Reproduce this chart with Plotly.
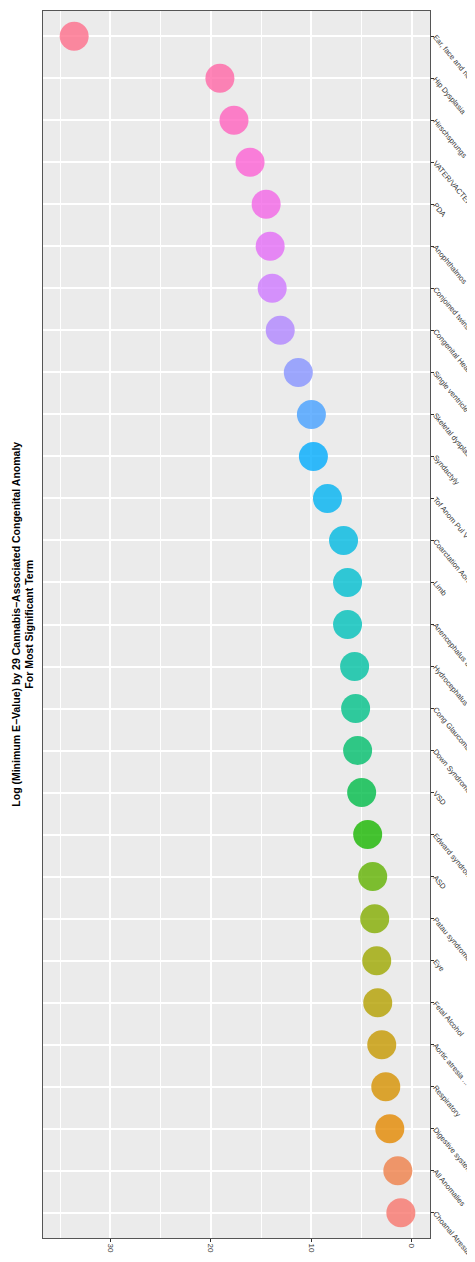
import plotly.graph_objects as go
import math

categories = ["Choanal Atresia", "All Anomalies", "Digestive system", "Respiratory", "Aortic atresia ...",
              "Fetal Alcohol", "Eye", "Patau syndrome", "ASD", "Edward syndrome", "VSD", "Down Syndrome",
              "Cong Glaucoma", "Hydrocephalus", "Anencephalus & ...", "Limb", "Coarctation Aorta",
              "Tof Anom Pul V Ret", "Syndactyly", "Skeletal dysplasias", "Single ventricle",
              "Congenital Heart", "Conjoined twins", "Anophthalmos", "PDA", "VATER/VACTERL",
              "Hirschsprungs", "Hip Dysplasia", "Ear, face and neck"]
values = [1.1, 1.4, 2.2, 2.6, 3.0, 3.4, 3.5, 3.7, 3.9, 4.4, 5.0, 5.4, 5.6, 5.7, 6.4, 6.4, 6.8,
          8.4, 9.8, 10.0, 11.3, 13.1, 13.9, 14.1, 14.5, 16.1, 17.7, 19.1, 33.6]

def hcl(h, c=100, l=65):
    hr = math.radians(h)
    U, V = c*math.cos(hr), c*math.sin(hr)
    Xn, Yn, Zn = 95.047, 100.0, 108.883
    Y = Yn*((l+16)/116)**3 if l > 8 else Yn*l/903.3
    un = 4*Xn/(Xn+15*Yn+3*Zn); vn = 9*Yn/(Xn+15*Yn+3*Zn)
    u = U/(13*l)+un; v = V/(13*l)+vn
    X = 9*Y*u/(4*v); Z = -X/3 - 5*Y + 3*Y/v
    X, Y, Z = X/100, Y/100, Z/100
    r = 3.240479*X - 1.537150*Y - 0.498535*Z
    g = -0.969256*X + 1.875992*Y + 0.041556*Z
    b = 0.055648*X - 0.204043*Y + 1.057311*Z
    def gam(x):
        x = 12.92*x if x <= 0.0031308 else 1.055*x**(1/2.4)-0.055
        return max(0, min(255, round(x*255)))
    return "rgb(%d,%d,%d)" % (gam(r), gam(g), gam(b))

n = len(categories)
colors = [hcl(15 + 360*i/n) for i in range(n)]

fig = go.Figure(go.Scatter(x=values, y=categories, mode="markers",
                           marker=dict(size=29, color=colors, opacity=0.8, line=dict(width=0))))
fig.update_layout(
    width=475, height=1262, margin=dict(l=35, r=53, t=3, b=32),
    paper_bgcolor="white", plot_bgcolor="#EBEBEB", showlegend=False,
    font=dict(family="Liberation Sans, Arial", size=8, color="#333"),
    xaxis=dict(range=[36.7, -1.8], tickvals=[0, 10, 20, 30], tickangle=90, gridcolor="white",
               gridwidth=1.5, zeroline=False, showline=True, linecolor="#555", mirror=True,
               ticks="outside", ticklen=3, tickcolor="#333", automargin=False,
               minor=dict(tickvals=[5, 15, 25, 35], gridcolor="white", gridwidth=0.7)),
    yaxis=dict(categoryorder="array", categoryarray=categories, side="right", tickangle=50,
               gridcolor="white", gridwidth=1.5, showline=True, linecolor="#555", mirror=True,
               ticks="outside", ticklen=3, tickcolor="#333", range=[-0.6, n-0.4],
               automargin=False, tickfont=dict(size=7.5)),
)
fig.add_annotation(x=-0.015, y=0.5, xref="paper", yref="paper", xanchor="right", showarrow=False,
                   textangle=-90,
                   text="<b>Log (Minimum E−Value) by 29 Cannabis−Associated Congenital Anomaly<br>For Most Significant Term</b>",
                   font=dict(size=10.5, color="black"))
fig.add_annotation(x=0.5, y=-0.019, xref="paper", yref="paper", yanchor="top", showarrow=False,
                   textangle=180,
                   text="Log 10 (Minimum E−Value)", font=dict(size=8.5, color="black"))
fig.write_html("out.html")
